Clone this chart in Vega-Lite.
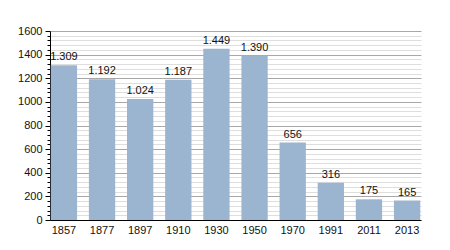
{
  "$schema": "https://vega.github.io/schema/vega-lite/v6.json",
  "width": 371,
  "height": 189,
  "autosize": "none",
  "padding": {"left": 50, "top": 31, "right": 29, "bottom": 30},
  "background": "white",
  "config": {
    "locale": {"number": {"decimal": ",", "thousands": ".", "grouping": [3], "currency": ["", " €"]}},
    "view": {"stroke": null},
    "font": "Liberation Sans"
  },
  "data": {"values": [
    {"year": "1857", "pop": 1309},
    {"year": "1877", "pop": 1192},
    {"year": "1897", "pop": 1024},
    {"year": "1910", "pop": 1187},
    {"year": "1930", "pop": 1449},
    {"year": "1950", "pop": 1390},
    {"year": "1970", "pop": 656},
    {"year": "1991", "pop": 316},
    {"year": "2011", "pop": 175},
    {"year": "2013", "pop": 165}
  ]},
  "encoding": {
    "x": {
      "field": "year", "type": "ordinal", "sort": null,
      "scale": {"paddingInner": 0.31, "paddingOuter": 0.02},
      "axis": {
        "title": null, "labelAngle": 0, "ticks": false, "domainColor": "#000", "domainWidth": 1,
        "labelFontSize": 11, "labelColor": "#111", "labelPadding": 4
      }
    },
    "y": {
      "field": "pop", "type": "quantitative",
      "scale": {"domain": [0, 1600], "nice": false},
      "axis": {
        "title": null,
        "values": [0,40,80,120,160,200,240,280,320,360,400,440,480,520,560,600,640,680,720,760,800,840,880,920,960,1000,1040,1080,1120,1160,1200,1240,1280,1320,1360,1400,1440,1480,1520,1560,1600],
        "labelExpr": "datum.value % 200 === 0 ? format(datum.value, 'd') : ''",
        "labelOverlap": false,
        "labelFontSize": 11, "labelColor": "#111", "labelPadding": 3,
        "domainColor": "#000", "domainWidth": 1,
        "tickColor": "#000",
        "tickSize": {"expr": "datum.value % 200 === 0 ? 5 : 3"},
        "grid": true,
        "gridColor": {"expr": "datum.value % 200 === 0 ? '#a8a8a8' : '#dedede'"},
        "gridWidth": 1
      }
    }
  },
  "layer": [
    {"mark": {"type": "bar", "color": "#9bb4cf"}},
    {
      "mark": {"type": "text", "baseline": "bottom", "dy": -3, "fontSize": 11, "color": "#111"},
      "encoding": {"text": {"field": "pop", "type": "quantitative", "format": ",d"}}
    }
  ]
}
